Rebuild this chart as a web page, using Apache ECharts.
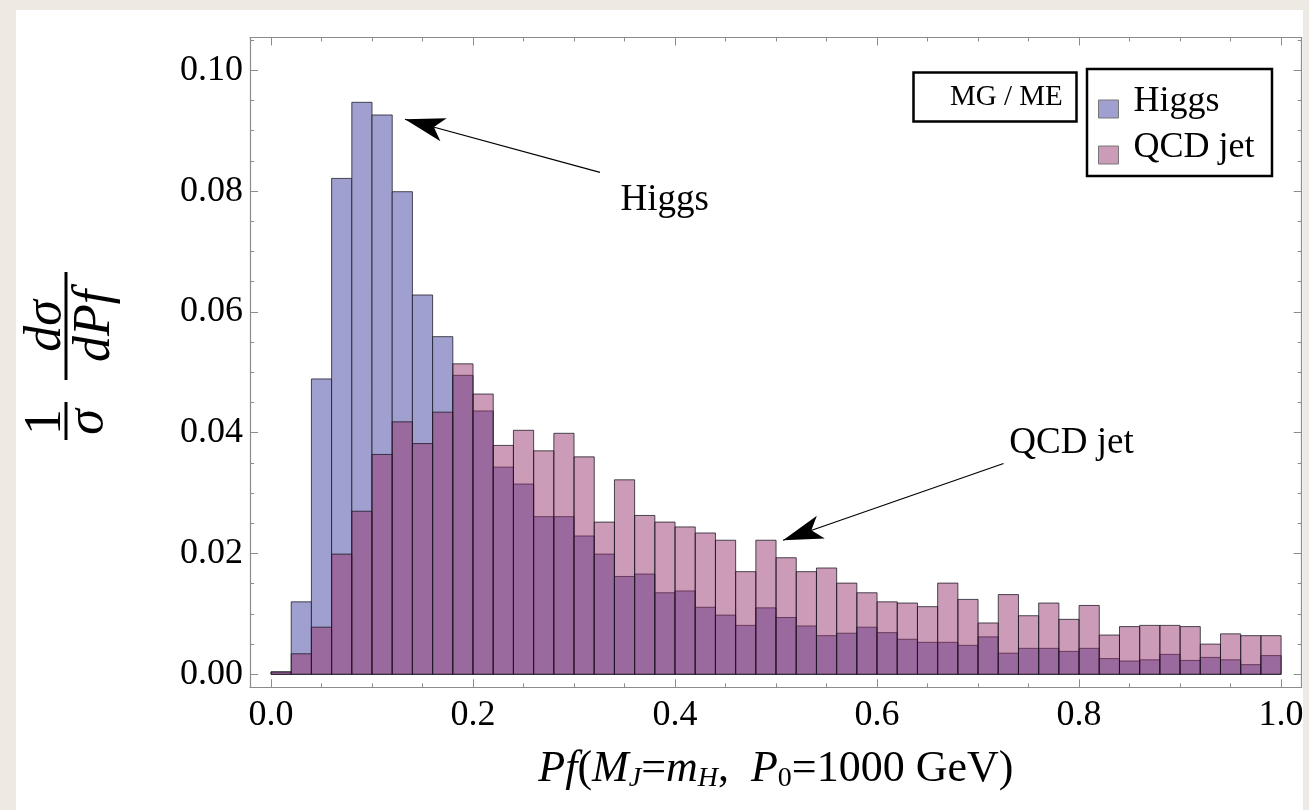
<!DOCTYPE html>
<html><head><meta charset="utf-8">
<script src="https://cdn.jsdelivr.net/npm/echarts@6/dist/echarts.min.js"></script>
<style>
html,body{margin:0;padding:0;background:#eeeae3;overflow:hidden;}
#card{position:absolute;left:16px;top:10px;width:1287px;height:800px;background:#fff;}
#chart{position:absolute;left:0;top:0;width:1309px;height:810px;}
</style></head><body>
<div id="card"></div><div id="chart"></div>
<script>
// ---- data ----
const binStarts = [0.00,0.02,0.04,0.06,0.08,0.10,0.12,0.14,0.16,0.18,
                   0.20,0.22,0.24,0.26,0.28,0.30,0.32,0.34,0.36,0.38,
                   0.40,0.42,0.44,0.46,0.48,0.50,0.52,0.54,0.56,0.58,
                   0.60,0.62,0.64,0.66,0.68,0.70,0.72,0.74,0.76,0.78,
                   0.80,0.82,0.84,0.86,0.88,0.90,0.92,0.94,0.96,0.98];
const binWidth = 0.02;
const higgs = [0.0004,0.0120,0.0489,0.0821,0.0947,0.0926,0.0799,0.0628,0.0559,0.0495,
               0.0436,0.0343,0.0315,0.0261,0.0261,0.0229,0.0199,0.0162,0.0166,0.0135,
               0.0138,0.0111,0.0098,0.0081,0.0110,0.0094,0.0080,0.0064,0.0068,0.0078,
               0.0069,0.0058,0.0053,0.0053,0.0048,0.0062,0.0035,0.0043,0.0043,0.0038,
               0.0043,0.0026,0.0022,0.0024,0.0033,0.0023,0.0028,0.0024,0.0016,0.0031];
const qcd   = [0.0004,0.0034,0.0078,0.0199,0.0270,0.0364,0.0418,0.0382,0.0434,0.0514,
               0.0464,0.0379,0.0404,0.0370,0.0399,0.0360,0.0252,0.0322,0.0263,0.0252,
               0.0244,0.0234,0.0222,0.0170,0.0222,0.0193,0.0170,0.0176,0.0151,0.0135,
               0.0120,0.0118,0.0112,0.0151,0.0124,0.0085,0.0132,0.0097,0.0118,0.0091,
               0.0114,0.0065,0.0079,0.0081,0.0081,0.0079,0.0050,0.0067,0.0064,0.0064];
const xMajorTicks = [0,0.2,0.4,0.6,0.8,1.0];
const xMinorTicks = [0.05,0.1,0.15,0.25,0.3,0.35,0.45,0.5,0.55,0.65,0.7,0.75,0.85,0.9,0.95];
const yMajorTicks = [0,0.02,0.04,0.06,0.08,0.10];
const yMinorTicks = [0.005,0.01,0.015,0.025,0.03,0.035,0.045,0.05,0.055,0.065,0.07,0.075,0.085,0.09,0.095,0.105];
const xRange = [-0.0208, 1.0204];
const yRange = [-0.00215, 0.10543];
const arrowHiggs = [[0.3257,0.0831],[0.1326,0.0919]];
const arrowQCD   = [[0.7252,0.0349],[0.5069,0.0222]];
const labelHiggs = [0.3897,0.0785];
const labelQCD   = [0.7925,0.0383];

const FONT = 'Liberation Serif';
const higgsColor = '#a0a0d0';
const qcdColor = 'rgba(149,47,105,0.48)';

function barsOf(vals){ return binStarts.map((s,i)=>[s, s+binWidth, vals[i]]); }
function renderBar(params, api){
  const x0 = api.value(0), x1 = api.value(1), y = api.value(2);
  const p0 = api.coord([x0, y]);
  const p1 = api.coord([x1, 0]);
  return {type:'rect', shape:{x:p0[0], y:p0[1], width:p1[0]-p0[0], height:p1[1]-p0[1]},
          style:{fill: api.visual('color'), stroke:'rgba(20,20,30,0.75)', lineWidth:1}};
}
const gray = '#8c8c8c';
const TICKFS = 36;
function xAx(pos, ticks, len, showLine, labels){
  return {type:'value', position:pos, min:xRange[0], max:xRange[1], gridIndex:0,
    axisLine:{show:showLine, onZero:false, lineStyle:{color:gray, width:1.2}},
    axisTick:{show:true, inside:true, length:len, customValues:ticks, lineStyle:{color:gray, width:1}},
    axisLabel: labels ? {show:true, customValues:ticks, formatter:v=>v.toFixed(1), fontFamily:FONT, fontSize:TICKFS, color:'#000', margin:10} : {show:false},
    splitLine:{show:false}};
}
function yAx(pos, ticks, len, showLine, labels){
  return {type:'value', position:pos, min:yRange[0], max:yRange[1], gridIndex:0,
    axisLine:{show:showLine, onZero:false, lineStyle:{color:gray, width:1.2}},
    axisTick:{show:true, inside:true, length:len, customValues:ticks, lineStyle:{color:gray, width:1}},
    axisLabel: labels ? {show:true, customValues:ticks, formatter:v=>v.toFixed(2), fontFamily:FONT, fontSize:TICKFS, color:'#000', margin:7} : {show:false},
    splitLine:{show:false}};
}
const xAxes = [xAx('bottom', xMajorTicks, 8, true, true), xAx('bottom', xMinorTicks, 4, false, false),
               xAx('top', xMajorTicks, 8, true, false), xAx('top', xMinorTicks, 4, false, false)];
const NFS = 44;
xAxes[0].name = '{i|Pf}{r|(}{i|M}{s|J}{r|=}{i|m}{s|H}{r|,  }{i|P}{t|0}{r|=1000 GeV)}';
xAxes[0].nameLocation = 'middle';
xAxes[0].nameGap = 59;
xAxes[0].nameTextStyle = {fontFamily:FONT, fontSize:NFS, color:'#000', rich:{
  i:{fontFamily:FONT, fontSize:NFS, fontStyle:'italic', color:'#000', lineHeight:46},
  r:{fontFamily:FONT, fontSize:NFS, color:'#000', lineHeight:46},
  s:{fontFamily:FONT, fontSize:28, fontStyle:'italic', color:'#000', lineHeight:28, verticalAlign:'bottom'},
  t:{fontFamily:FONT, fontSize:28, color:'#000', lineHeight:28, verticalAlign:'bottom'}
}};
const yAxes = [yAx('left', yMajorTicks, 8, true, true), yAx('left', yMinorTicks, 4, false, false),
               yAx('right', yMajorTicks, 8, true, false), yAx('right', yMinorTicks, 4, false, false)];

// y-axis title (rotated fraction) as graphic text
const tf = 52;
const yTitle = {type:'group', x:66, y:446, rotation:Math.PI/2, children:[
  {type:'text', x:24, y:6, style:{text:'1', font:`${tf}px "${FONT}"`, fill:'#000', align:'center', verticalAlign:'bottom'}},
  {type:'rect', shape:{x:6, y:-1.5, width:38, height:3}, style:{fill:'#000'}},
  {type:'text', x:24, y:-4, style:{text:'σ', font:`italic ${tf}px "${FONT}"`, fill:'#000', align:'center', verticalAlign:'top'}},
  {type:'text', x:120, y:6, style:{text:'dσ', font:`italic ${tf}px "${FONT}"`, fill:'#000', align:'center', verticalAlign:'bottom'}},
  {type:'rect', shape:{x:66, y:-1.5, width:108, height:3}, style:{fill:'#000'}},
  {type:'text', x:120, y:3, style:{text:'dPf', font:`italic ${tf}px "${FONT}"`, fill:'#000', align:'center', verticalAlign:'top'}}
]};

const chart = echarts.init(document.getElementById('chart'), null, {renderer:'canvas'});
chart.setOption({
  backgroundColor:'transparent',
  animation:false,
  title:{text:'MG / ME', left:913, top:72, padding:[8,14,8,37], borderColor:'#000', borderWidth:2.5,
         textStyle:{fontFamily:FONT, fontSize:29, fontWeight:'normal', color:'#000', lineHeight:34}},
  legend:{data:['Higgs','QCD jet'], orient:'vertical', left:1087, top:69, icon:'rect', itemWidth:20, itemHeight:18,
    itemGap:10, padding:[15,15,10,11], borderColor:'#000', borderWidth:2.5, selectedMode:false,
    itemStyle:{borderColor:'#777', borderWidth:1},
    formatter: name => `{a|${name}}{b| }`,
    textStyle:{fontFamily:FONT, fontSize:36, color:'#000', padding:[0,0,0,10],
      rich:{a:{fontFamily:FONT, fontSize:36, color:'#000', lineHeight:36, verticalAlign:'top'},
            b:{fontFamily:FONT, fontSize:10, lineHeight:50}}}},
  grid:{left:250, right:7.3, top:37.5, bottom:122.7, containLabel:false},
  xAxis:xAxes, yAxis:yAxes,
  graphic:[yTitle],
  series:[
    {name:'Higgs', type:'custom', xAxisIndex:0, yAxisIndex:0, renderItem:renderBar, itemStyle:{color:higgsColor},
     encode:{x:[0,1], y:2}, data:barsOf(higgs), z:2},
    {name:'QCD jet', type:'custom', xAxisIndex:0, yAxisIndex:0, renderItem:renderBar, itemStyle:{color:qcdColor},
     encode:{x:[0,1], y:2}, data:barsOf(qcd), z:3},
    {name:'annot', type:'scatter', xAxisIndex:0, yAxisIndex:0, data:[], silent:true, z:5,
     markLine:{silent:true, symbol:['none','arrow'], symbolSize:[18,40], label:{show:false},
       lineStyle:{color:'#000', width:1.2, type:'solid'},
       data:[[{coord:arrowHiggs[0]},{coord:arrowHiggs[1]}],[{coord:arrowQCD[0]},{coord:arrowQCD[1]}]]},
     markPoint:{symbol:'rect', symbolSize:1, itemStyle:{color:'rgba(0,0,0,0)'},
       label:{show:true, position:'inside', formatter:p=>p.name, fontFamily:FONT, fontSize:37, color:'#000'},
       data:[{name:'Higgs', coord:labelHiggs},{name:'QCD jet', coord:labelQCD}]}}
  ]
});
</script>
</body></html>
